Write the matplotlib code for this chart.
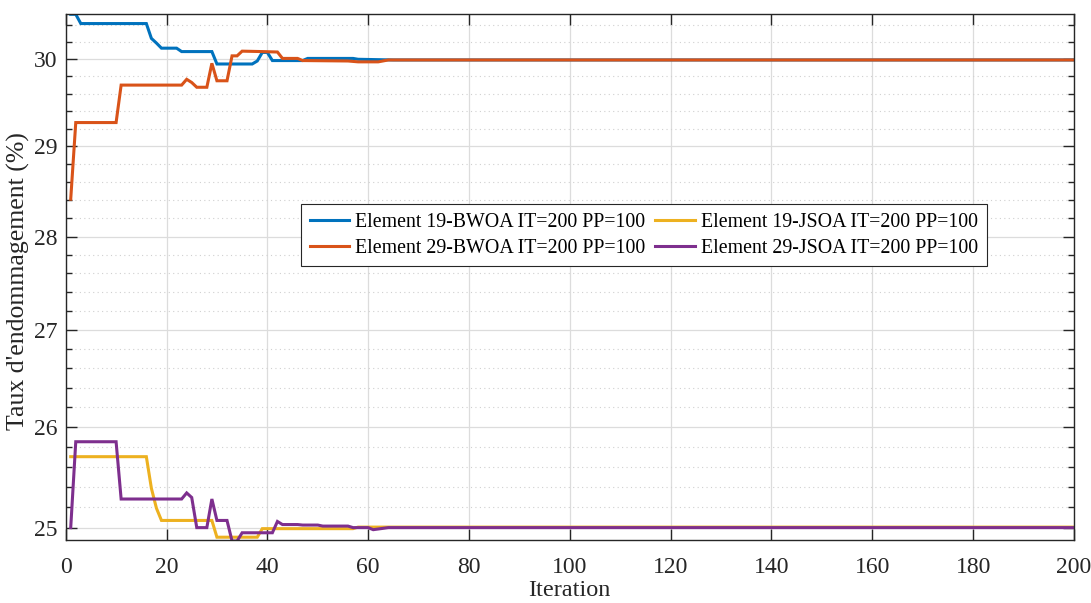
import matplotlib.pyplot as plt
import matplotlib.ticker as mticker
import numpy as np

# polyline vertices (iteration, damage rate %)
it_b19 = [1, 2, 3, 16, 17, 18, 19, 22, 23, 29, 30, 37, 38, 39, 40, 41, 47, 48, 57, 58, 65, 200]
val_b19 = [30.53, 30.53, 30.42, 30.42, 30.245, 30.19, 30.13, 30.13, 30.09, 30.09, 29.945,
           29.945, 29.98, 30.08, 30.08, 29.985, 29.985, 30.01, 30.01, 30.0, 29.992, 29.992]

it_b29 = [1, 2, 10, 11, 23, 24, 25, 26, 28, 29, 30, 32, 33, 34, 35, 39, 42, 43, 46, 47,
          56, 58, 62, 64, 200]
val_b29 = [28.41, 29.27, 29.27, 29.70, 29.70, 29.767, 29.73, 29.675, 29.675, 29.953, 29.75,
           29.75, 30.04, 30.04, 30.095, 30.09, 30.085, 30.01, 30.01, 29.985, 29.98, 29.97,
           29.97, 29.992, 29.992]

it_j19 = [1, 16, 17, 18, 19, 29, 30, 38, 39, 57, 58, 200]
val_j19 = [25.70, 25.70, 25.386, 25.19, 25.07, 25.07, 24.907, 24.907, 24.99, 24.99,
           25.005, 25.005]

it_j29 = [1, 2, 10, 11, 23, 24, 25, 26, 28, 29, 30, 32, 33, 34, 35, 41, 42, 43, 46, 47,
          50, 51, 56, 57, 60, 61, 64, 200]
val_j29 = [25.0, 25.85, 25.85, 25.28, 25.28, 25.34, 25.295, 25.0, 25.0, 25.28, 25.07, 25.07,
           24.87, 24.87, 24.95, 24.95, 25.06, 25.03, 25.03, 25.025, 25.025, 25.015, 25.015,
           25.0, 25.0, 24.98, 25.0, 25.0]

labels = ['Element 19-BWOA IT=200 PP=100', 'Element 29-BWOA IT=200 PP=100',
          'Element 19-JSOA IT=200 PP=100', 'Element 29-JSOA IT=200 PP=100']
colors = ['#0072BD', '#D95319', '#EDB120', '#7E2F8E']

plt.rcParams['font.family'] = ['Liberation Serif', 'DejaVu Serif']

fig = plt.figure(figsize=(10.91, 6.03), dpi=100)
ax = fig.add_axes([0.0602, 0.1045, 0.9242, 0.8718])

series = [(it_b19, val_b19), (it_b29, val_b29), (it_j19, val_j19), (it_j29, val_j29)]
for (xs, ys), lab, c in zip(series, labels, colors):
    ax.plot(xs, ys, color=c, lw=2.2, label=lab, solid_joinstyle='miter')

ax.set_yscale('log')
ax.set_xlim(0, 200)
ax.set_ylim(24.88, 30.53)

ax.yaxis.set_major_locator(mticker.FixedLocator([25, 26, 27, 28, 29, 30]))
ax.yaxis.set_major_formatter(mticker.FixedFormatter(['25', '26', '27', '28', '29', '30']))
minor = [round(v, 1) for v in np.arange(24.0, 31.0, 0.2) if abs(v - round(v)) > 0.01]
ax.yaxis.set_minor_locator(mticker.FixedLocator(minor))
ax.yaxis.set_minor_formatter(mticker.NullFormatter())
ax.xaxis.set_major_locator(mticker.MultipleLocator(20))
ax.xaxis.set_minor_locator(mticker.NullLocator())

ax.grid(True, which='major', color='#dcdcdc', lw=0.9)
ax.grid(True, which='minor', axis='y', color='#d0d0d0', lw=0.8, ls=(0, (1, 3)))
ax.set_axisbelow(True)

ax.tick_params(which='both', direction='in', top=True, right=True, colors='#262626',
               labelsize=17, width=1.0)
ax.tick_params(which='major', length=8)
ax.tick_params(axis='x', which='major', pad=12)
ax.tick_params(axis='y', which='major', pad=6)
ax.tick_params(which='minor', length=4.5)
for s in ax.spines.values():
    s.set_color('#262626')
    s.set_linewidth(1.0)

ax.set_xlabel('Iteration', fontsize=17.5, color='#262626', labelpad=2)
ax.set_ylabel("Taux d'endommagement (%)", fontsize=18.5, color='#262626')
ax.yaxis.set_label_coords(-0.035, 0.492)

leg = ax.legend(ncol=2, loc='center', bbox_to_anchor=(0.5735, 0.58), fontsize=14.3,
                frameon=True, fancybox=False, edgecolor='#262626', framealpha=1,
                handlelength=2.0, columnspacing=0.5, handletextpad=0.3,
                borderpad=0.45, labelspacing=0.35)
leg.get_frame().set_linewidth(0.8)

fig.savefig('out.png', dpi=100)
